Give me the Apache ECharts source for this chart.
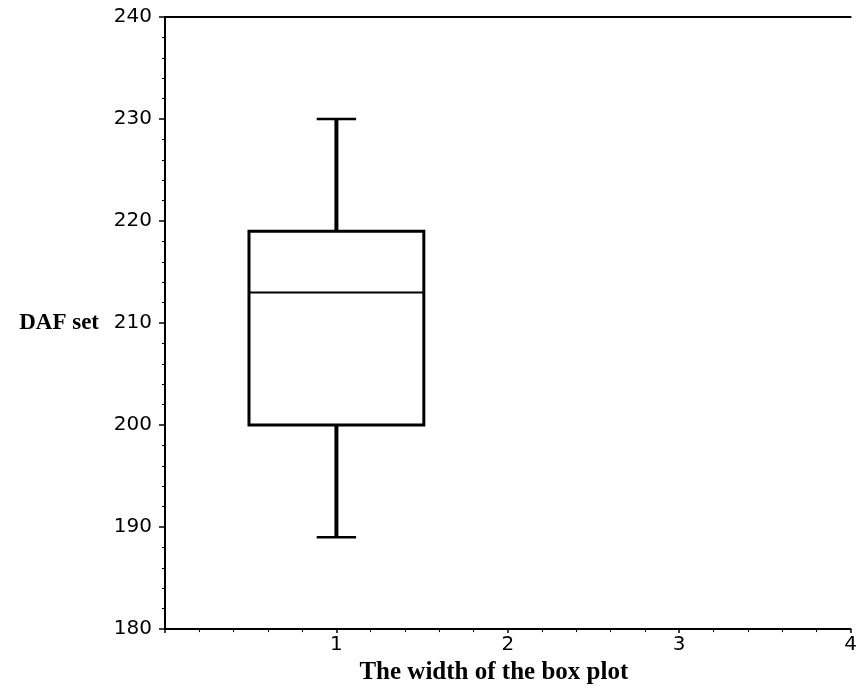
<!DOCTYPE html>
<html>
<head>
<meta charset="utf-8">
<script src="https://cdn.jsdelivr.net/npm/echarts@6/dist/echarts.min.js"></script>
<style>
  html, body { margin: 0; padding: 0; background: #fff; }
  #chart { width: 860px; height: 690px; }
</style>
</head>
<body>
<div id="chart"></div>
<script>
// Data
const boxPositions = [1];
const whiskerLow = [189];
const quartile1 = [200];
const medians = [213];
const quartile3 = [219];
const whiskerHigh = [230];

const yAxisTitle = 'DAF set';
const xAxisTitle = 'The width of the box plot';

const boxData = boxPositions.map((x, i) => [x, whiskerLow[i], quartile1[i], medians[i], quartile3[i], whiskerHigh[i]]);

const BOX_WIDTH = 1.02;  // in x units
const CAP_WIDTH = 0.23;  // in x units

const chart = echarts.init(document.getElementById('chart'), null, { renderer: 'canvas' });

const labelFont = { fontFamily: 'DejaVu Sans', fontSize: 20, color: '#000' };

chart.setOption({
  backgroundColor: '#fff',
  animation: false,
  grid: { left: 165, right: 2, top: 17, bottom: 50, containLabel: false },
  xAxis: [{
    type: 'value',
    min: 0, max: 4, interval: 1,
    name: xAxisTitle,
    nameLocation: 'middle',
    nameGap: 27,
    nameTextStyle: { fontFamily: 'Liberation Serif', fontWeight: 'bold', fontSize: 25, color: '#000', padding: [0, 28, 0, 0] },
    axisLine: { show: true, lineStyle: { color: '#000', width: 2 } },
    axisTick: { show: true, inside: false, length: 4, lineStyle: { color: '#000', width: 1.5 } },
    minorTick: { show: true, splitNumber: 5, length: 3, lineStyle: { color: '#000', width: 1 } },
    axisLabel: {
      ...labelFont, margin: 6,
      formatter: v => (v === 0 ? '' : String(v))
    },
    splitLine: { show: false }
  }, {
    type: 'value',
    position: 'top',
    min: 0, max: 4,
    axisLine: { show: true, lineStyle: { color: '#000', width: 2 } },
    axisTick: { show: false },
    axisLabel: { show: false },
    splitLine: { show: false }
  }],
  yAxis: {
    type: 'value',
    min: 180, max: 240, interval: 10,
    name: yAxisTitle,
    nameLocation: 'middle',
    nameRotate: 0,
    nameGap: 66,
    nameTextStyle: { fontFamily: 'Liberation Serif', fontWeight: 'bold', fontSize: 23, color: '#000' },
    axisLine: { show: true, lineStyle: { color: '#000', width: 2 } },
    axisTick: { show: true, inside: false, length: 6, lineStyle: { color: '#000', width: 1.5 } },
    minorTick: { show: true, splitNumber: 5, length: 3, lineStyle: { color: '#000', width: 1 } },
    axisLabel: { ...labelFont, margin: 13 },
    splitLine: { show: false }
  },
  series: [{
    type: 'custom',
    xAxisIndex: 0,
    data: boxData,
    encode: { x: 0, y: [1, 2, 3, 4, 5] },
    renderItem: function (params, api) {
      const x = api.value(0);
      const pMin = api.coord([x, api.value(1)]);
      const pQ1 = api.coord([x, api.value(2)]);
      const pMed = api.coord([x, api.value(3)]);
      const pQ3 = api.coord([x, api.value(4)]);
      const pMax = api.coord([x, api.value(5)]);
      const half = api.size([BOX_WIDTH, 0])[0] / 2;
      const capHalf = api.size([CAP_WIDTH, 0])[0] / 2;
      const cx = pMed[0];
      const stroke = { stroke: '#000', fill: null };
      return {
        type: 'group',
        children: [
          { type: 'line', shape: { x1: cx, y1: pQ3[1], x2: cx, y2: pMax[1] }, style: { ...stroke, lineWidth: 4 } },
          { type: 'line', shape: { x1: cx, y1: pMin[1], x2: cx, y2: pQ1[1] }, style: { ...stroke, lineWidth: 4 } },
          { type: 'line', shape: { x1: cx - capHalf, y1: pMax[1], x2: cx + capHalf, y2: pMax[1] }, style: { ...stroke, lineWidth: 2.5 } },
          { type: 'line', shape: { x1: cx - capHalf, y1: pMin[1], x2: cx + capHalf, y2: pMin[1] }, style: { ...stroke, lineWidth: 2.5 } },
          { type: 'rect', shape: { x: cx - half, y: pQ3[1], width: half * 2, height: pQ1[1] - pQ3[1] }, style: { stroke: '#000', fill: '#fff', lineWidth: 3 } },
          { type: 'line', shape: { x1: cx - half, y1: pMed[1], x2: cx + half, y2: pMed[1] }, style: { ...stroke, lineWidth: 2 } }
        ]
      };
    }
  }]
});
</script>
</body>
</html>
